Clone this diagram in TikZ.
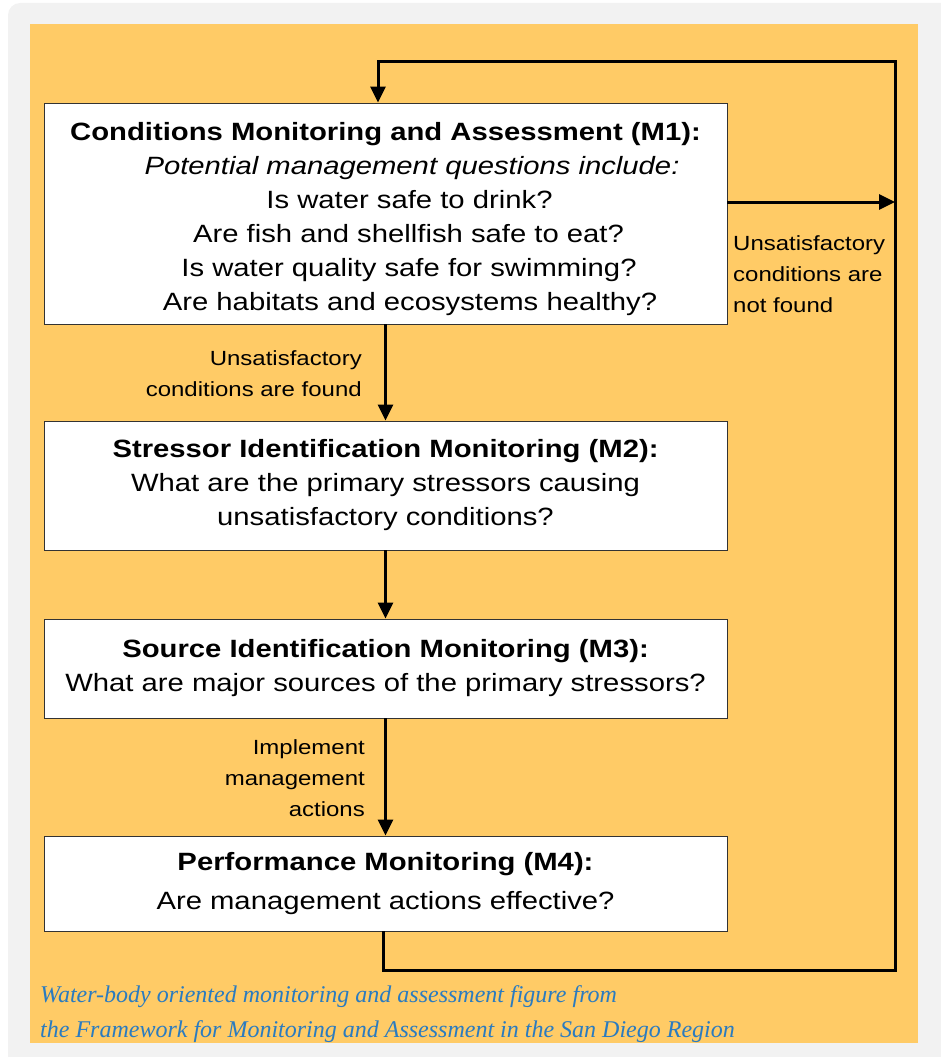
\documentclass[tikz,border=0pt]{standalone}
\usepackage{fontspec}
\setmainfont{Liberation Sans}[FakeStretch=1.17]
\newfontfamily\capfont{Liberation Serif}
\usetikzlibrary{arrows.meta}
\definecolor{panel}{RGB}{255,203,102}
\definecolor{frame}{RGB}{242,242,242}
\definecolor{capblue}{RGB}{42,123,192}
\tikzset{
  box/.style={draw=black!80, line width=0.9pt, fill=white, minimum width=683pt,
    align=center, inner sep=0pt, font=\fontsize{25}{34}\selectfont},
  flow/.style={line width=3pt, -{Triangle[length=16pt,width=15pt]}},
  note/.style={inner sep=0pt, font=\fontsize{20.5}{31}\selectfont},
  caption/.style={anchor=base west, inner sep=0pt, text=capblue,
    font=\capfont\itshape\fontsize{24}{35}\selectfont}
}
\begin{document}
\begin{tikzpicture}[x=1pt,y=-1pt]
  \useasboundingbox (0,0) rectangle (940,1057);
  \fill[frame, rounded corners=12pt] (8,3) rectangle (955,1075);
  \fill[panel] (30,24) rectangle (918,1043);

  % the four monitoring steps
  \node[box, minimum height=221pt] (m1) at (385.5,213.5)
    {\rule{0pt}{30pt}\textbf{Conditions Monitoring and Assessment (M1):}\\
     \hspace*{53pt}\textit{Potential management questions include:}\\
     \hspace*{48pt}Is water safe to drink?\\
     \hspace*{46pt}Are fish and shellfish safe to eat?\\
     \hspace*{47pt}Is water quality safe for swimming?\\
     \hspace*{49pt}Are habitats and ecosystems healthy?};
  \node[box, minimum height=129pt] (m2) at (385.5,485.5)
    {\textbf{Stressor Identification Monitoring (M2):}\\
     What are the primary stressors causing\\
     unsatisfactory conditions?};
  \node[box, minimum height=99pt] (m3) at (385.5,668.5)
    {\textbf{Source Identification Monitoring (M3):}\\
     What are major sources of the primary stressors?};
  \node[box, minimum height=95pt] (m4) at (385.5,883.5)
    {\textbf{Performance Monitoring (M4):}\\[5pt]
     Are management actions effective?};

  % labels on the connectors
  \node[note, align=right, anchor=east] (found) at (362,373.5)
    {Unsatisfactory\\conditions are found};
  \node[note, align=right, anchor=east] (impl) at (365,778)
    {Implement\\management\\actions};
  \node[note, align=left, anchor=west] (notfound) at (733,274)
    {Unsatisfactory\\conditions are\\not found};

  % corners of the loop back to M1
  \coordinate (lb) at (383,970);
  \coordinate (rb) at (895,970);
  \coordinate (rt) at (895,62);
  \coordinate (lt) at (378,62);
  \coordinate (hit) at (895,202);

  \begin{scope}[flow]
    \draw (m1) -- (m2);
    \draw (m2) -- (m3);
    \draw (m3) -- (m4);
    \draw (m1.east |- hit) -- (hit);
    \draw[line join=miter] (m4.south -| lb) -- (lb) -- (rb) -- (rt) -- (lt) -- (m1.north -| lt);
  \end{scope}

  % source note
  \node[caption] (cap1) at (40,1002)
    {Water-body oriented monitoring and assessment figure from};
  \node[caption] (cap2) at (40,1037)
    {the Framework for Monitoring and Assessment in the San Diego Region};
\end{tikzpicture}
\end{document}
